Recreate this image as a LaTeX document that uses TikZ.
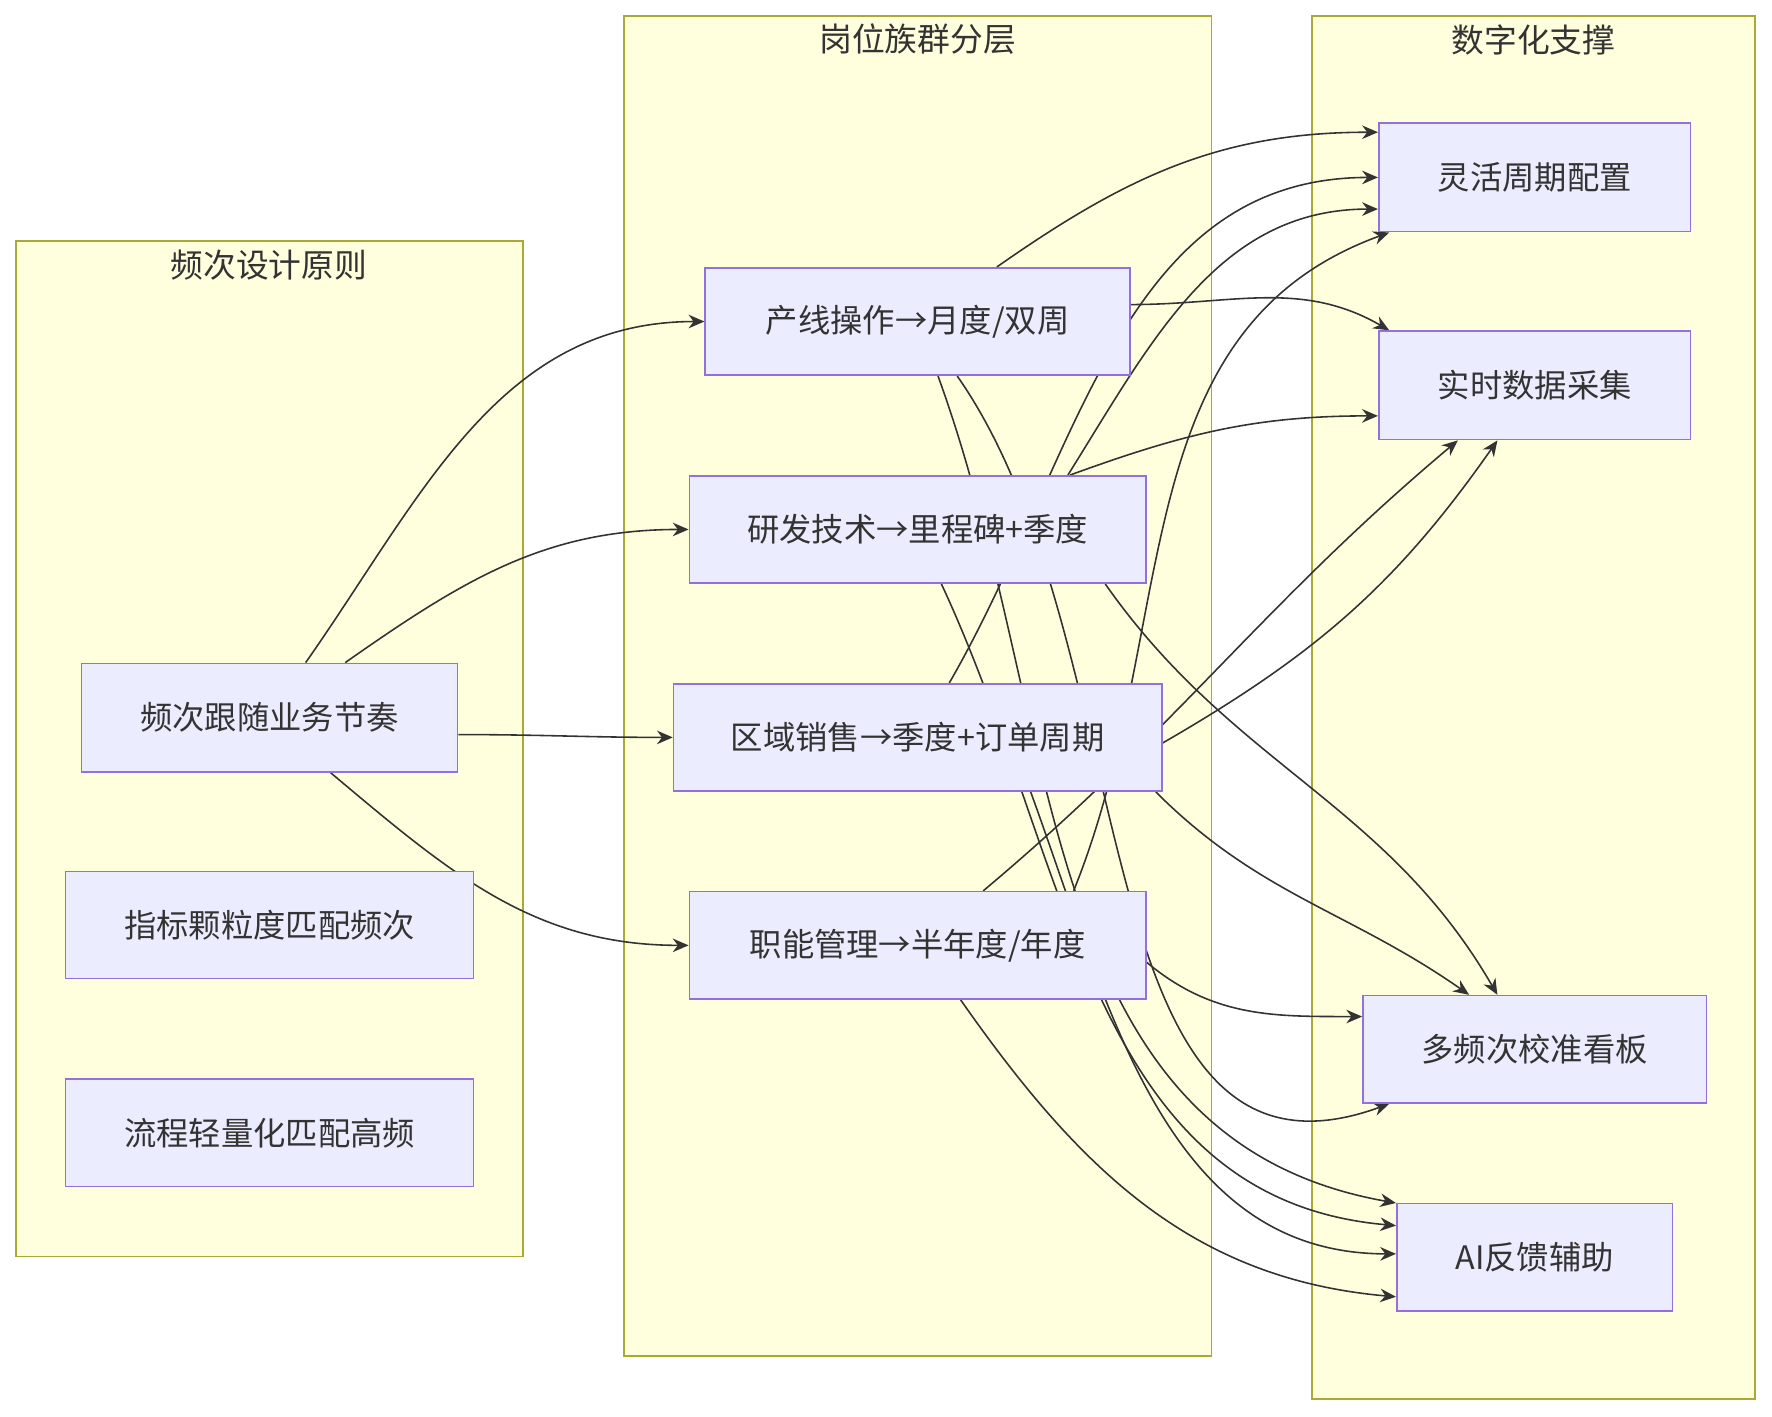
\documentclass[tikz,border=0pt]{standalone}
\usepackage{fontspec}
\setmainfont{Noto Sans CJK SC}
\usetikzlibrary{calc,arrows.meta}
\pgfdeclarelayer{bg}\pgfdeclarelayer{edges}
\pgfsetlayers{bg,edges,main}
\definecolor{clf}{HTML}{FFFFDE}\definecolor{clb}{HTML}{AAAA33}
\definecolor{ndf}{HTML}{ECECFF}\definecolor{ndb}{HTML}{9370DB}
\definecolor{ln}{HTML}{333333}
\tikzset{
 clus/.style={draw=clb,fill=clf,line width=0.7pt},
 box/.style={draw=ndb,fill=ndf,line width=0.7pt,font=\fontsize{14.3}{16}\selectfont,text=ln,inner sep=0pt},
 ttl/.style={font=\fontsize{14.5}{16}\selectfont,text=ln},
 arr/.style={draw=ln,line width=0.7pt,-{Stealth[length=7pt,width=6pt]}}
}
\newcommand\edg[4]{\draw[arr] #1 to[out=#3,in=#4] #2;}
\begin{document}
\begin{tikzpicture}[x=0.5pt,y=-0.5pt]
\useasboundingbox (0,0) rectangle (1568,1253);
\begin{pgfonlayer}{bg}
\draw[clus] (14,213) rectangle (463,1112);
\draw[clus] (552,14) rectangle (1072,1200);
\draw[clus] (1161,14) rectangle (1553,1238);
\end{pgfonlayer}
\node[ttl] (T1) at (238,235) {频次设计原则};
\node[ttl] (T2) at (812,35) {岗位族群分层};
\node[ttl] (T3) at (1357,35) {数字化支撑};
\node[box,minimum width=166.5pt,minimum height=48pt] (F) at (238.5,635) {频次跟随业务节奏};
\node[box,minimum width=180.5pt,minimum height=47.5pt] (Z) at (238.5,818.5) {指标颗粒度匹配频次};
\node[box,minimum width=180.5pt,minimum height=47.5pt] (L) at (238.5,1002.5) {流程轻量化匹配高频};
\node[box,minimum width=188pt,minimum height=47.5pt] (P1) at (812,284.5) {产线操作→月度/双周};
\node[box,minimum width=202pt,minimum height=47.5pt] (P2) at (812,468.5) {研发技术→里程碑+季度};
\node[box,minimum width=216pt,minimum height=47.5pt] (P3) at (812,652.5) {区域销售→季度+订单周期};
\node[box,minimum width=202pt,minimum height=47.5pt] (P4) at (812,836.5) {职能管理→半年度/年度};
\node[box,minimum width=138pt,minimum height=48pt] (S1) at (1358,157) {灵活周期配置};
\node[box,minimum width=138pt,minimum height=48pt] (S2) at (1358,341) {实时数据采集};
\node[box,minimum width=152pt,minimum height=47.5pt] (S3) at (1358,928.5) {多频次校准看板};
\node[box,minimum width=122pt,minimum height=47.5pt] (S4) at (1358,1112.5) {AI反馈辅助};
\begin{pgfonlayer}{edges}
\edg{($(F.north)+(32,0)$)}{(P1.west)}{55}{180}
\edg{($(F.north)+(67,0)$)}{(P2.west)}{35}{180}
\edg{($(F.east)+(0,15)$)}{(P3.west)}{0}{180}
\edg{($(F.south)+(54,0)$)}{(P4.west)}{-40}{180}
% P1
\edg{($(P1.north)+(70,0)$)}{($(S1.west)+(0,-40)$)}{35}{180}
\edg{($(P1.east)+(0,-15)$)}{($(S2.north west)+(10,0)$)}{0}{150}
\edg{($(P1.south)+(35,0)$)}{($(S3.south west)+(24,0)$)}{-55}{200}
\edg{($(P1.south)+(18,0)$)}{($(S4.west)+(0,-48)$)}{-70}{170}
% P2
\edg{($(P2.north)+(133,0)$)}{($(S1.west)+(0,28)$)}{58}{180}
\edg{($(P2.north)+(135,0)$)}{($(S2.west)+(0,27)$)}{20}{180}
\edg{($(P2.south)+(166,0)$)}{($(S3.north)+(-33,0)$)}{-55}{120}
\edg{($(P2.south)+(21,0)$)}{($(S4.west)+(0,-28)$)}{-65}{175}
% P3
\edg{($(P3.north)+(28,0)$)}{(S1.west)}{60}{180}
\edg{($(P3.east)+(0,5)$)}{($(S2.south)+(-33,0)$)}{30}{-125}
\edg{($(P3.south east)+(-6,0)$)}{($(S3.north)+(-58,0)$)}{-45}{145}
\edg{($(P3.south)+(100,0)$)}{($(S4.west)+(0,-3)$)}{-70}{180}
% P4
\edg{($(P4.north)+(138,0)$)}{($(S1.south west)+(10,0)$)}{68}{-160}
\edg{($(P4.north)+(58,0)$)}{($(S2.south)+(-68,0)$)}{40}{-140}
\edg{($(P4.east)+(0,15)$)}{($(S3.west)+(0,-29)$)}{-40}{180}
\edg{($(P4.south)+(38,0)$)}{($(S4.west)+(0,35)$)}{-55}{175}
\end{pgfonlayer}
\end{tikzpicture}
\end{document}
